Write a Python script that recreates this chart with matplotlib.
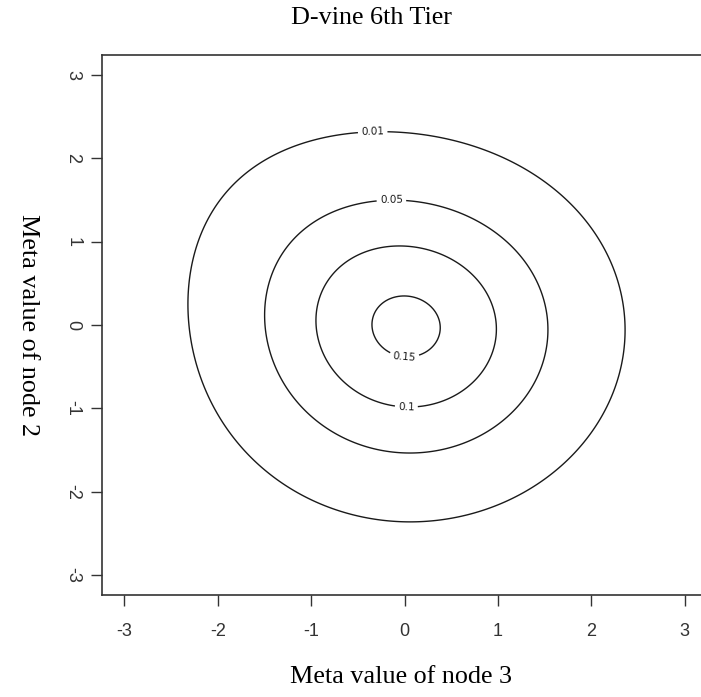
import math
import numpy as np
import matplotlib
matplotlib.use("Agg")
import matplotlib.pyplot as plt

# contour levels and where R put their labels
levels = [0.01, 0.05, 0.1, 0.15]
label_pos = [(-0.34, 2.29), (-0.14, 1.47), (0.02, -0.98), (0.0, -0.37)]

# rotated (270 deg) Clayton copula with N(0,1) margins, parameter
theta = 0.08
ticks = [-3, -2, -1, 0, 1, 2, 3]
lim = (-3.24, 3.24)

title = "D-vine 6th Tier"
xlab = "Meta value of node 3"
ylab = "Meta value of node 2"

Phi = np.frompyfunc(lambda t: 0.5 * (1 + math.erf(t / math.sqrt(2))), 1, 1)

def density(x, y):
    u = Phi(x).astype(float)
    v = 1 - Phi(y).astype(float)
    c = (1 + theta) * (u * v) ** (-1 - theta) * (u ** -theta + v ** -theta - 1) ** (-2 - 1 / theta)
    phi = lambda t: np.exp(-t ** 2 / 2) / np.sqrt(2 * np.pi)
    return c * phi(x) * phi(y)

g = np.linspace(-3.3, 3.3, 301)
X, Y = np.meshgrid(g, g)
Z = density(X, Y)

fig = plt.figure(figsize=(7.01, 6.97), dpi=100)
ax = fig.add_axes([102 / 701, 102 / 697, 605 / 701, 540 / 697])

cs = ax.contour(X, Y, Z, levels=levels, colors="#1a1a1a", linewidths=1.0)
ax.clabel(cs, fmt="%g", fontsize=7.5, inline=True, inline_spacing=3,
          manual=label_pos)

ax.set_xlim(lim)
ax.set_ylim(lim)
ax.set_xticks(ticks)
ax.set_yticks(ticks)
ax.set_xticklabels([str(t) for t in ticks], family="Liberation Sans", fontsize=13, color="#333333")
ax.set_yticklabels([str(t) for t in ticks], family="Liberation Sans", fontsize=13, color="#333333",
                   rotation=270, va="center")
ax.tick_params(axis="both", direction="out", length=8, width=1.0, color="#333333")
ax.tick_params(axis="x", pad=12)
ax.tick_params(axis="y", pad=7)
for s in ax.spines.values():
    s.set_color("#333333")
    s.set_linewidth(1.2)

fig.text(371 / 701, 1 - 18 / 697, title, family="Liberation Serif", fontsize=18.8,
         ha="center", va="center")
fig.text(401 / 701, 1 - 677 / 697, xlab, family="Liberation Serif", fontsize=18.8,
         ha="center", va="center")
fig.text(28 / 701, 1 - 325 / 697, ylab, family="Liberation Serif", fontsize=18.8,
         ha="center", va="center", rotation=270)

fig.savefig("out.png", dpi=100)
